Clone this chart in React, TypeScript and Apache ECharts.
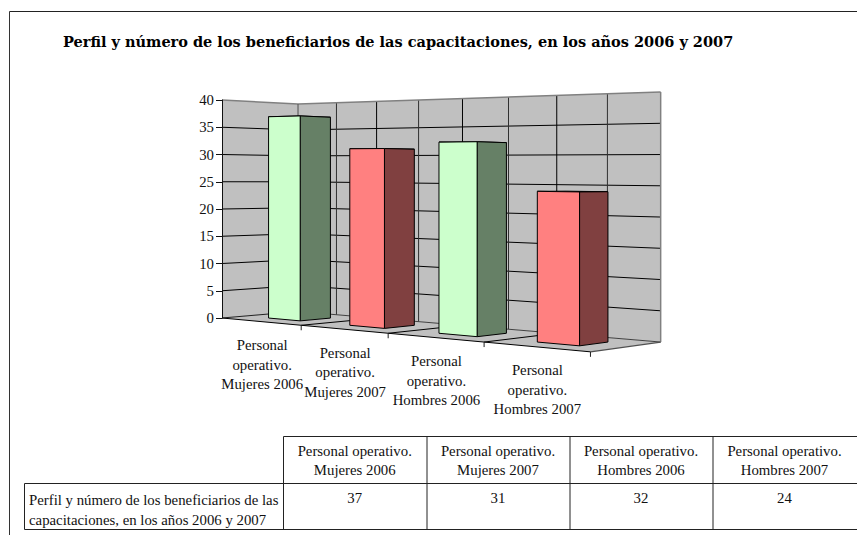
import React, { useEffect, useRef } from "react";
import * as echarts from "echarts";

const titleText = "Perfil y número de los beneficiarios de las capacitaciones, en los años 2006 y 2007";
const categories = ["Personal operativo. Mujeres 2006", "Personal operativo. Mujeres 2007", "Personal operativo. Hombres 2006", "Personal operativo. Hombres 2007"];
const axisLabels = ["Personal\noperativo.\nMujeres 2006", "Personal\noperativo.\nMujeres 2007", "Personal\noperativo.\nHombres 2006", "Personal\noperativo.\nHombres 2007"];
const tableHeaders = ["Personal operativo.\nMujeres 2006", "Personal operativo.\nMujeres 2007", "Personal operativo.\nHombres 2006", "Personal operativo.\nHombres 2007"];
const rowLabel = "Perfil y número de los beneficiarios de las\ncapacitaciones, en los años 2006 y 2007";
const values = [37, 31, 32, 24];
const faceColors = ["#CCFFCC", "#FF8080", "#CCFFCC", "#FF8080"];
const sideColors = ["#668066", "#804040", "#668066", "#804040"];
const yMax = 40;
const yStep = 5;

const FONT = '"Liberation Serif", serif';
const textFont = `14.8px ${FONT}`;

// Perspective camera: u across the floor, w front to back, height in px at the front-left edge.
const project = (u: number, w: number, h: number) => {
  const d = 1 - 0.1786 * u + 0.0506 * w;
  return [(222 + 263 * u + 91.1 * w) / d, (318 - 29 * u + 9.26 * w - h) / d];
};

const poly = (pts: number[][], fill: string, stroke: string, lineWidth = 1, z2 = 0) => ({
  type: "polygon",
  z2,
  shape: { points: pts },
  style: { fill, stroke, lineWidth, lineJoin: "round" },
});
const seg = (a: number[], b: number[], stroke: string, lineWidth = 1, z2 = 1) => ({
  type: "line",
  z2,
  shape: { x1: a[0], y1: a[1], x2: b[0], y2: b[1] },
  style: { stroke, lineWidth },
});

const renderWalls = (_p: any, api: any) => {
  const base = api.coord([0, 0])[1];
  const hOf = (v: number) => base - api.coord([0, v])[1];
  const H = hOf(yMax);
  const kids: any[] = [];
  const EDGE = "#808080";
  kids.push(poly([project(0, 1, 0), project(1, 1, 0), project(1, 1, H), project(0, 1, H)], "#C0C0C0", "none"));
  kids.push(poly([project(0, 0, 0), project(0, 1, 0), project(0, 1, H), project(0, 0, H)], "#C0C0C0", "none"));
  kids.push(poly([project(0, 0, 0), project(1, 0, 0), project(1, 1, 0), project(0, 1, 0)], "#C0C0C0", "none"));
  for (let v = yStep; v < yMax; v += yStep) {
    const h = hOf(v);
    kids.push(seg(project(0, 0, h), project(0, 1, h), "#000"));
    kids.push(seg(project(0, 1, h), project(1, 1, h), "#000"));
  }
  for (let k = 1; k < 8; k++) {
    kids.push(seg(project(k / 8, 1, 0), project(k / 8, 1, H), k % 2 ? "#303030" : "#000"));
  }
  for (let k = 1; k < 4; k++) {
    kids.push(seg(project(k / 4, 0, 0), project(k / 4, 1, 0), "#000"));
  }
  kids.push(seg(project(0, 1, 0), project(1, 1, 0), "#404040"));
  kids.push(seg(project(0, 0, 0), project(0, 1, 0), "#202020"));
  kids.push(seg(project(0, 0, H), project(0, 1, H), EDGE, 1.5, 2));
  kids.push(seg(project(0, 1, H), project(1, 1, H), EDGE, 1.5, 2));
  kids.push(seg(project(1, 1, H), project(1, 1, 0), EDGE, 1.5, 2));
  kids.push(seg(project(0, 1, H), project(0, 1, 0), "#606060", 1.2, 2));
  kids.push(seg(project(1, 0, 0), project(1, 1, 0), "#505050", 1.2, 2));
  kids.push(seg(project(0, 0, 0), project(1, 0, 0), "#000", 1, 2));
  for (let k = 1; k <= 4; k++) {
    const t = project(k / 4, 0, 0);
    kids.push(seg(t, [t[0], t[1] + 5], "#202020", 1, 2));
  }
  return { type: "group", children: kids };
};

const renderBar = (p: any, api: any) => {
  const cat = api.value(0);
  const sys = p.coordSys;
  const uc = (api.coord([cat, 0])[0] - sys.x) / sys.width;
  const h = api.coord([cat, 0])[1] - api.coord([cat, api.value(1)])[1];
  const hw = 0.05;
  const [u1, u2, w0, w1] = [uc - hw, uc + hw, 0.3, 0.7];
  const face = faceColors[p.dataIndex];
  const side = sideColors[p.dataIndex];
  return {
    type: "group",
    children: [
      poly([project(u1, w0, h), project(u2, w0, h), project(u2, w1, h), project(u1, w1, h)], side, "#000"),
      poly([project(u2, w0, 0), project(u2, w1, 0), project(u2, w1, h), project(u2, w0, h)], side, "#000"),
      poly([project(u1, w0, 0), project(u2, w0, 0), project(u2, w0, h), project(u1, w0, h)], face, "#000"),
    ],
  };
};

const renderLabel = (p: any, api: any) => {
  const sys = p.coordSys;
  const cat = api.value(0);
  const u = (api.coord([cat, 0])[0] - sys.x) / sys.width;
  const pos = project(u, 0, 0);
  return {
    type: "text",
    style: {
      text: axisLabels[p.dataIndex],
      x: pos[0] + 1.5,
      y: pos[1] + 43,
      align: "center",
      verticalAlign: "middle",
      font: textFont,
      lineHeight: 19.5,
      fill: "#111",
    },
  };
};

const tableX = [24.5, 283.5, 427, 570, 713, 857];
const tableY = [436.5, 483.5, 529.5];

const buildTable = () => {
  const els: any[] = [];
  const ln = (x1: number, y1: number, x2: number, y2: number, stroke = "#222", lineWidth = 1) => ({
    type: "line",
    silent: true,
    shape: { x1, y1, x2, y2 },
    style: { stroke, lineWidth },
  });
  const centerText = (text: string, x: number, y: number, lineHeight: number) => ({
    type: "text",
    x,
    y,
    style: { text, align: "center", verticalAlign: "middle", font: textFont, lineHeight, fill: "#111" },
  });
  els.push(ln(9.5, 11.5, 857, 11.5, "#222", 1));
  els.push(ln(9.5, 11.5, 9.5, 535, "#333", 1));
  els.push(ln(tableX[1], tableY[0], 857, tableY[0]));
  els.push(ln(tableX[0], tableY[1], 857, tableY[1]));
  els.push(ln(tableX[0], tableY[2], 857, tableY[2]));
  els.push(ln(tableX[0], tableY[1], tableX[0], tableY[2]));
  for (let i = 1; i <= 4; i++) els.push(ln(tableX[i], tableY[0], tableX[i], tableY[2]));
  tableHeaders.forEach((t, i) => {
    els.push(centerText(t, (tableX[i + 1] + tableX[i + 2]) / 2 - 0.5, 460.5, 19.5));
  });
  values.forEach((v, i) => {
    els.push(centerText(String(v), (tableX[i + 1] + tableX[i + 2]) / 2 - 0.5, 498, 19.5));
  });
  els.push({
    type: "text",
    x: 29,
    y: 510,
    style: { text: rowLabel, align: "left", verticalAlign: "middle", font: textFont, lineHeight: 20, fill: "#111" },
  });
  return els;
};

export default function App() {
  const ref = useRef<HTMLDivElement>(null);
  useEffect(() => {
    document.body.style.margin = "0";
    const chart = echarts.init(ref.current!, undefined, { renderer: "svg" });
    chart.setOption({
      animation: false,
      backgroundColor: "#fff",
      title: {
        text: titleText,
        left: 58,
        top: 29,
        textStyle: { fontFamily: '"DejaVu Serif", serif', fontWeight: "bold", fontSize: 14.5, color: "#000" },
      },
      grid: { left: 222, top: 100, width: 400, height: 218, containLabel: false },
      xAxis: { type: "category", data: categories, show: false },
      yAxis: {
        type: "value",
        min: 0,
        max: yMax,
        interval: yStep,
        z: 5,
        axisLine: { show: true, lineStyle: { color: "#111", width: 1 } },
        axisTick: { show: true, length: 6, lineStyle: { color: "#111", width: 1 } },
        axisLabel: { fontFamily: FONT, fontSize: 14.8, color: "#111", margin: 8 },
        splitLine: { show: false },
      },
      series: [
        { type: "custom", z: 1, silent: true, renderItem: renderWalls, data: [[0, 0]], encode: { x: 0, y: 1 } },
        {
          type: "custom",
          z: 2,
          silent: true,
          renderItem: renderBar,
          data: values.map((v, i) => [i, v]),
          encode: { x: 0, y: 1 },
        },
        {
          type: "custom",
          z: 3,
          silent: true,
          renderItem: renderLabel,
          data: values.map((_, i) => [i, 0]),
          encode: { x: 0, y: 1 },
        },
      ],
      graphic: buildTable(),
    });
    return () => chart.dispose();
  }, []);
  return <div ref={ref} style={{ position: "fixed", left: 0, top: 0, width: 857, height: 535 }} />;
}
